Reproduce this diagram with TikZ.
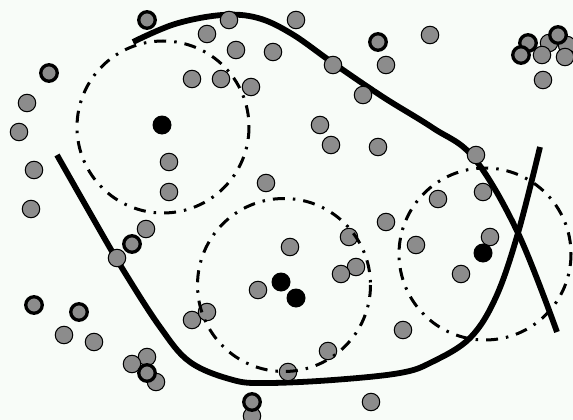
\documentclass[tikz,border=0pt]{standalone}
\usetikzlibrary{calc}
\definecolor{bgc}{RGB}{248,252,248}
\definecolor{ptgray}{RGB}{140,140,140}
\tikzset{
  pt/.style={circle,draw=black,fill=ptgray,line width=1pt,minimum size=17.5pt,inner sep=0pt},
  ring/.style={circle,draw=black,fill=ptgray,line width=3.3pt,minimum size=16.5pt,inner sep=0pt},
  blk/.style={circle,fill=black,minimum size=19pt,inner sep=0pt},
  hull/.style={line width=5.8pt,line cap=butt},
  zone/.style={line width=3pt,dash pattern=on 12pt off 8pt on 2.5pt off 8pt}
}
\begin{document}
\begin{tikzpicture}[x=1pt,y=-1pt]
\fill[bgc] (0,0) rectangle (573,420);
\useasboundingbox (0,0) rectangle (573,420);
% thick curves
\draw[hull] plot[smooth,tension=0.6] coordinates {(57,155) (90,213) (122,268) (160,327) (190,362) (233,380) (267,383) (333,380) (400,373) (432,362) (470,338) (496,297) (518,233) (540,147)};
\draw[hull] plot[smooth,tension=0.6] coordinates {(133,42) (175,24) (222,15) (258,18) (292,34) (333,63) (383,97) (433,128) (474,158) (518,233) (557,332)};
% gray points
\foreach \x/\y [count=\i] in {229/20,296/20,207/34,236/50,273/52,192/79,221/79,251/87,27/103,19/132,34/170,31/209,169/162,169/192,266/183,333/65,386/65,430/35,363/95,320/125,331/145,378/147,476/155,483/192,438/199,549/43,542/55,567/45,565/57,543/80,146/229,117/258,64/335,94/342,147/357,132/364,156/382,192/320,207/312,258/290,290/247,252/416,288/372,386/222,349/237,356/267,341/274,416/245,490/237,461/274,403/330,328/351,371/402}
  \node[pt] (g\i) at (\x,\y) {};
% ringed points
\foreach \x/\y [count=\i] in {147/20,49/73,378/42,528/43,521/55,558/35,132/244,34/305,79/312,147/373,252/402}
  \node[ring] (r\i) at (\x,\y) {};
% black points
\node[blk] (b1) at (162,125) {};
\node[blk] (b2) at (281,282) {};
\node[blk] (b3) at (296,298) {};
\node[blk] (b4) at (483,253) {};
% dash-dot zones
\draw[zone] (163,127) circle (86);
\draw[zone] (284,285) circle (86.5);
\draw[zone] (485,254) circle (86);
\end{tikzpicture}
\end{document}
